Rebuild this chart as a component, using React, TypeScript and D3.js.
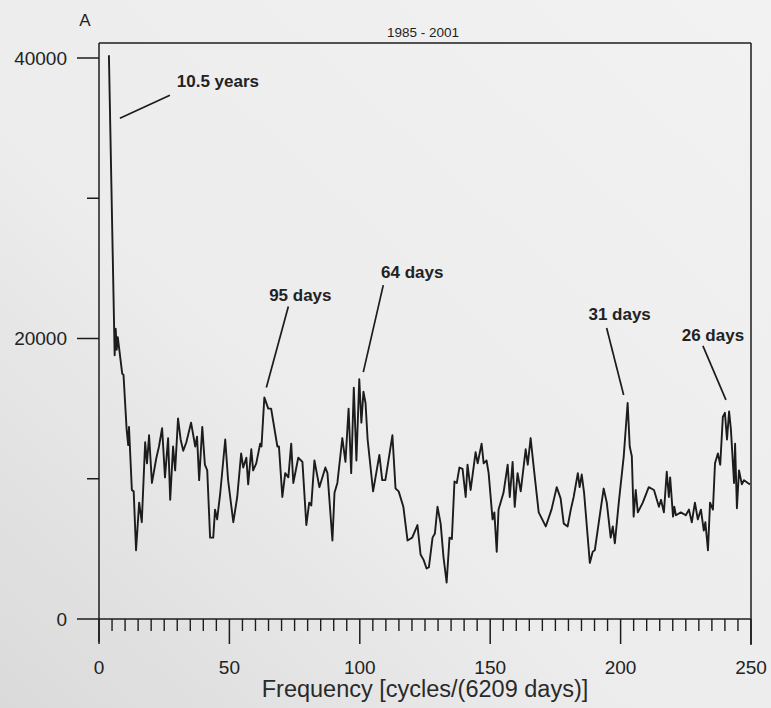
import React from 'react';
import * as d3 from 'd3';

// spectrum: frequency in cycles/(6209 days), power
const freq = [
  3.8, 6.0, 6.4, 6.8, 7.2, 8.9, 9.4, 10.6, 11.2, 11.5, 12.6, 13.3, 14.2, 15.4, 16.4, 17.7, 18.4, 19.2, 20.3, 22.0,
  23.0, 24.2, 25.3, 26.5, 27.3, 28.4, 29.2, 30.3, 31.3, 32.3, 33.5, 35.3, 36.9, 37.6, 38.4, 39.6, 40.6, 41.5, 42.6, 43.8,
  44.5, 45.3, 46.5, 48.4, 49.5, 51.5, 53.0, 54.5, 55.3, 56.5, 57.2, 58.4, 59.1, 60.3, 61.8, 62.3, 63.4, 64.9, 66.0, 68.4,
  69.0, 70.3, 71.4, 72.6, 73.7, 74.5, 76.4, 78.0, 79.5, 80.6, 81.4, 82.6, 84.5, 86.8, 87.6, 89.5, 90.3, 91.4, 93.3, 94.5,
  95.7, 96.7, 97.7, 98.7, 99.8, 100.6, 101.4, 102.2, 103.0, 105.1, 107.5, 108.6, 109.8, 112.5, 113.7, 114.9, 116.7, 118.3, 120.1, 122.1,
  123.3, 124.5, 125.6, 126.5, 127.9, 128.8, 129.8, 131.0, 132.1, 133.3, 134.4, 135.3, 136.3, 137.2, 138.2, 139.4, 140.6, 141.3, 142.5, 144.4,
  145.2, 146.7, 147.5, 148.6, 149.4, 150.9, 151.6, 152.5, 153.2, 155.1, 156.7, 157.5, 158.6, 159.4, 160.5, 161.7, 163.6, 164.4, 165.5, 166.7,
  168.6, 171.3, 173.5, 175.5, 177.0, 178.2, 179.7, 180.9, 182.0, 183.6, 184.3, 185.1, 186.0, 188.2, 189.3, 190.1, 193.5, 194.7, 196.2, 197.0,
  197.8, 199.3, 201.2, 202.7, 203.5, 204.3, 205.0, 205.8, 206.6, 208.5, 210.8, 212.8, 214.7, 215.5, 216.6, 217.7, 218.5, 219.0, 220.1, 220.6,
  221.2, 223.1, 225.0, 226.2, 227.3, 228.5, 229.6, 230.8, 231.9, 232.5, 233.5, 234.3, 235.4, 236.2, 237.3, 238.2, 239.2, 240.0, 240.8, 241.6,
  242.3, 243.5, 243.9, 244.6, 245.4, 246.5, 247.3, 248.8, 249.6,
];
const power = [
  40200, 18800, 20700, 19200, 20100, 17500, 17400, 13500, 12400, 13700, 9200, 9100, 4900, 8300, 6900, 12600, 11100, 13100, 9700, 11500,
  12300, 13600, 10100, 12900, 8500, 12300, 10600, 14300, 12800, 12000, 12600, 14000, 12300, 13000, 9900, 13700, 11000, 10600, 5800, 5800,
  7800, 7100, 9000, 12800, 9900, 6900, 8700, 11800, 10800, 11500, 9600, 12100, 10600, 11100, 12500, 12300, 15800, 15000, 15000, 12300,
  12300, 8700, 10400, 10100, 12500, 9700, 11500, 11200, 6700, 8300, 8100, 11300, 9400, 10800, 10400, 5600, 9000, 9700, 12900, 11200,
  15000, 10400, 16500, 11300, 17100, 14000, 16200, 15400, 12800, 9100, 11700, 9900, 9900, 13100, 9300, 9100, 8000, 5600, 5800, 6700,
  4600, 4200, 3600, 3700, 5800, 6100, 8000, 6800, 4400, 2600, 5800, 5700, 9800, 9700, 10800, 10700, 8700, 11000, 9200, 11900,
  11100, 12500, 11100, 11300, 10400, 7100, 7600, 4800, 7800, 9000, 11000, 8700, 11200, 8000, 10400, 9100, 12100, 11000, 12900, 10800,
  7600, 6600, 7800, 9400, 8600, 6800, 6600, 7800, 8700, 10400, 9400, 10300, 9000, 4000, 4800, 4900, 9300, 8300, 5800, 6600,
  5400, 8300, 11600, 15400, 12300, 11600, 7300, 9200, 7600, 8300, 9400, 9200, 8000, 8500, 7600, 10500, 8700, 10100, 7300, 8000,
  7400, 7600, 7400, 7800, 6900, 8300, 7100, 7800, 6300, 6900, 4900, 8300, 7800, 11100, 11800, 11000, 14400, 14700, 12800, 14800,
  13500, 9700, 12500, 7900, 10600, 9600, 9900, 9700, 9600,
];

const xMajorTicks = [0, 50, 100, 150, 200, 250];
const xMinorStep = 5;
const yLabelTicks = [0, 20000, 40000];
const yMinorTicks = [10000, 30000];

const peakLabels = ['10.5 years', '95 days', '64 days', '31 days', '26 days'];
const peakIndex = [0, 56, 84, 163, 197];

// label/leader offsets from each peak, in px
const leaderFrom = [[11, 63], [2, -10], [4, -7], [-4, -8], [1, -13]];
const leaderTo = [[61, 40], [24, -91], [24, -94], [-21, -75], [-22, -67]];
const labelAt = [[109, 26], [36, -102], [53, -107], [-8, -89], [-12, -78]];

const W = 771;
const H = 708;
const font = '"Liberation Sans", Arial, sans-serif';
const ink = '#1c1c1c';

export default function App() {
  const x = d3.scaleLinear().domain([0, 250]).range([99, 751]);
  const y = d3.scaleLinear().domain([0, 40000]).range([619, 58]);
  const yTop = y(41070);

  const pts = freq.map((f, i) => [f, power[i]] as [number, number]);
  const line = d3.line<[number, number]>().x(d => x(d[0])).y(d => y(d[1]));
  const minor = d3.range(0, 251, xMinorStep).filter(v => v % 50 !== 0);

  return (
    <svg width={W} height={H} style={{ position: 'absolute', left: 0, top: 0 }} fontFamily={font}>
      <defs>
        <linearGradient id="paper" x1="1" y1="0" x2="0" y2="1">
          <stop offset="0" stopColor="#f2f2f2" />
          <stop offset="0.6" stopColor="#ececec" />
          <stop offset="1" stopColor="#dadada" />
        </linearGradient>
      </defs>
      <rect width={W} height={H} fill="url(#paper)" />

      {/* frame */}
      <line x1={x(0)} x2={x(250)} y1={yTop} y2={yTop} stroke={ink} strokeWidth={1.7} />
      <line x1={x(250)} x2={x(250)} y1={yTop} y2={y(0) + 26} stroke={ink} strokeWidth={1.5} />
      <line x1={x(0)} x2={x(0)} y1={yTop} y2={y(0) + 23} stroke={ink} strokeWidth={1.5} />
      <line x1={x(0)} x2={x(250)} y1={y(0)} y2={y(0)} stroke={ink} strokeWidth={1.7} />

      {/* x ticks */}
      {minor.map(v => (
        <line key={'m' + v} x1={x(v)} x2={x(v)} y1={y(0)} y2={y(0) + 12} stroke={ink} strokeWidth={1.4} />
      ))}
      {xMajorTicks.map(v => (
        <g key={'x' + v}>
          <line x1={x(v)} x2={x(v)} y1={y(0)} y2={y(0) + 25} stroke={ink} strokeWidth={1.5} />
          <text x={x(v)} y={y(0) + 48} dy="0.35em" textAnchor="middle" fontSize={19} fill="#222">{v}</text>
        </g>
      ))}

      {/* y ticks */}
      {yLabelTicks.map(v => (
        <g key={'y' + v}>
          <line x1={x(0) - 22} x2={x(0)} y1={y(v)} y2={y(v)} stroke={ink} strokeWidth={1.5} />
          <text x={x(0) - 32} y={y(v)} dy="0.35em" textAnchor="end" fontSize={19} fill="#222">{v}</text>
        </g>
      ))}
      {yMinorTicks.map(v => (
        <line key={'ym' + v} x1={x(0) - 12} x2={x(0)} y1={y(v)} y2={y(v)} stroke={ink} strokeWidth={1.5} />
      ))}

      <text x={85} y={20} dy="0.35em" textAnchor="middle" fontSize={17} fill="#222">A</text>
      <text x={423} y={32} dy="0.35em" textAnchor="middle" fontSize={13.5} fill="#1e1e1e">1985 - 2001</text>
      <text x={425} y={689} dy="0.35em" textAnchor="middle" fontSize={23.5} fill="#2a2a2a">
        Frequency [cycles/(6209 days)]
      </text>

      <path d={line(pts) ?? ''} fill="none" stroke={ink} strokeWidth={1.9} strokeLinejoin="round" />

      {peakLabels.map((lab, i) => {
        const px = x(freq[peakIndex[i]]);
        const py = y(power[peakIndex[i]]);
        return (
          <g key={lab}>
            <line x1={px + leaderFrom[i][0]} y1={py + leaderFrom[i][1]} x2={px + leaderTo[i][0]} y2={py + leaderTo[i][1]}
              stroke={ink} strokeWidth={1.7} />
            <text x={px + labelAt[i][0]} y={py + labelAt[i][1]} dy="0.35em" textAnchor="middle"
              fontSize={17} fontWeight="bold" fill="#222">{lab}</text>
          </g>
        );
      })}
    </svg>
  );
}
